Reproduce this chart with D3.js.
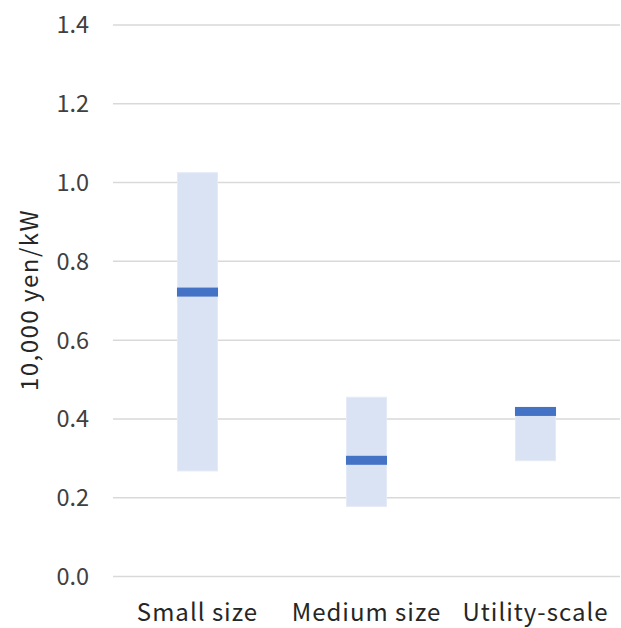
<!DOCTYPE html>
<html><head><meta charset="utf-8">
<script src="https://cdn.jsdelivr.net/npm/d3@7"></script>
<style>body{margin:0;background:#fff}svg{display:block}</style>
</head><body><div id="chart"></div>
<script>
const categories = ["Small size", "Medium size", "Utility-scale"];
const lowValues = [0.268, 0.178, 0.294];
const highValues = [1.025, 0.455, 0.42];
const medianValues = [0.722, 0.295, 0.419];
const yTicks = [0, 0.2, 0.4, 0.6, 0.8, 1.0, 1.2, 1.4];
const yTitle = "10,000 yen/kW";

const W = 621, H = 628;
const m = {left: 113, right: 1, top: 25, bottom: 51.5};
const font = "'Noto Sans CJK JP', 'Noto Sans', sans-serif";
const svg = d3.select("#chart").append("svg").attr("width", W).attr("height", H);

const x = d3.scaleBand().domain(categories).range([m.left, W - m.right]).paddingInner(0.763).paddingOuter(0.3815);
const y = d3.scaleLinear().domain([0, 1.4]).range([H - m.bottom, m.top]);

// gridlines
svg.append("g").selectAll("line").data(yTicks).join("line")
  .attr("x1", m.left).attr("x2", W - m.right)
  .attr("y1", d => y(d)).attr("y2", d => y(d))
  .attr("stroke", "#d9d9d9").attr("stroke-width", 1.5);

// y tick labels
svg.append("g").selectAll("text").data(yTicks).join("text")
  .attr("x", 89).attr("y", d => y(d)).attr("dy", "0.36em")
  .attr("text-anchor", "end").attr("font-family", font).attr("font-size", 23.5)
  .attr("fill", "#404040").text(d => d.toFixed(1));

// range boxes
svg.append("g").selectAll("rect").data(categories).join("rect")
  .attr("x", d => x(d)).attr("width", x.bandwidth())
  .attr("y", (d, i) => y(highValues[i]))
  .attr("height", (d, i) => y(lowValues[i]) - y(highValues[i]))
  .attr("fill", "#dae3f3").attr("stroke", "#e4eaf6").attr("stroke-width", 1);

// median bands
svg.append("g").selectAll("rect").data(categories).join("rect")
  .attr("x", d => x(d) - 0.5).attr("width", x.bandwidth() + 1)
  .attr("y", (d, i) => y(medianValues[i]) - 4.5)
  .attr("height", 9)
  .attr("fill", "#4472c4");

// x labels
svg.append("g").selectAll("text").data(categories).join("text")
  .attr("x", d => x(d) + x.bandwidth() / 2).attr("y", 621)
  .attr("text-anchor", "middle").attr("font-family", font).attr("font-size", 24)
  .attr("letter-spacing", 1).attr("fill", "#262626").text(d => d);

// y title
svg.append("text")
  .attr("transform", "translate(38,300) rotate(-90)")
  .attr("text-anchor", "middle").attr("font-family", font).attr("font-size", 24)
  .attr("letter-spacing", 1.5).attr("fill", "#262626").text(yTitle);
</script></body></html>
